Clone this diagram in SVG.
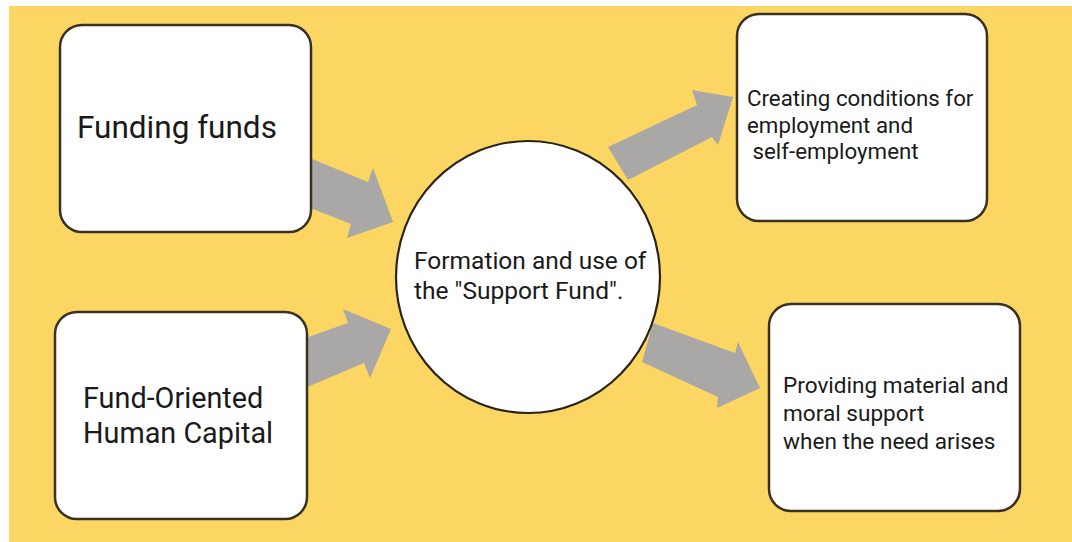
<svg xmlns="http://www.w3.org/2000/svg" width="1072" height="542" viewBox="0 0 1072 542">
<style>
.box{fill:#fff;stroke:#3a3122;stroke-width:2.5}
.arrow{fill:#a9a8a6}
text{font-family:Roboto,"Liberation Sans",sans-serif;fill:#1a1a1a}
</style>
<rect x="0" y="0" width="1072" height="542" fill="#fff"/>
<rect x="9" y="6" width="1063" height="536" fill="#fcd662"/>
<g id="connectors">
<polygon class="arrow" points="300,154 368,182 373,168 393,222 347,238 351,224 300,204"/>
<polygon class="arrow" points="300,340 348,323 343,309 391,329 370,378 364,363 300,390"/>
<polygon class="arrow" points="608,147 697,105 692,90 733,97 718,145 712,137 628,180"/>
<polygon class="arrow" points="653,323 735,353 738,342 760,388 717,408 718,397 642,362"/>
</g>
<g id="funding-funds">
<rect class="box" x="60" y="25" width="251" height="207" rx="22"/>
<text x="77" y="138" font-size="31.5">Funding funds</text>
</g>
<g id="human-capital">
<rect class="box" x="55" y="312" width="252" height="207" rx="22"/>
<text x="83" y="408" font-size="28.8">Fund-Oriented</text>
<text x="83" y="443" font-size="28.8">Human Capital</text>
</g>
<g id="support-fund">
<ellipse cx="528" cy="277" rx="132" ry="136" fill="#fff" stroke="#2a2418" stroke-width="2.2"/>
<text x="414" y="269" font-size="24.5">Formation and use of</text>
<text x="414" y="299" font-size="24.5">the "Support Fund".</text>
</g>
<g id="employment">
<rect class="box" x="737" y="14" width="250" height="207" rx="22"/>
<text x="747" y="106" font-size="22.3">Creating conditions for</text>
<text x="747" y="133" font-size="22.3">employment and</text>
<text x="747" y="159" font-size="22.3" xml:space="preserve"> self-employment</text>
</g>
<g id="support">
<rect class="box" x="769" y="304" width="251" height="207" rx="22"/>
<text x="783" y="393" font-size="22.6">Providing material and</text>
<text x="783" y="421" font-size="22.6">moral support</text>
<text x="783" y="449" font-size="22.6">when the need arises</text>
</g>
</svg>
